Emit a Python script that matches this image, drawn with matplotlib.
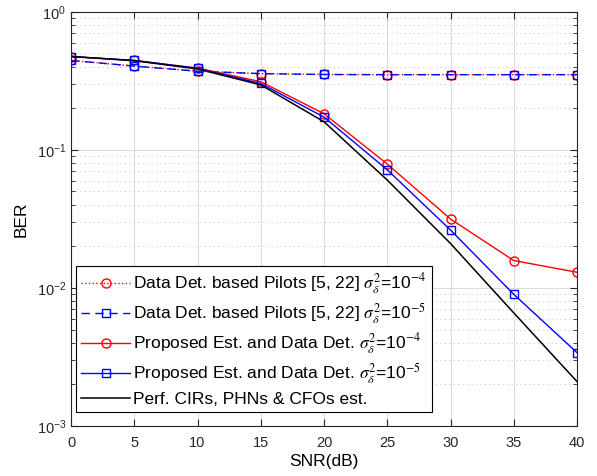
import numpy as np
import matplotlib.pyplot as plt
from matplotlib.ticker import LogLocator, NullFormatter

plt.rcParams['font.family'] = ['Liberation Sans', 'DejaVu Sans']
plt.rcParams['mathtext.fontset'] = 'stix'

snr = [0, 5, 10, 15, 20, 25, 30, 35, 40]

# BER values
pilots_e4 = [0.445, 0.405, 0.372, 0.357, 0.352, 0.351, 0.351, 0.351, 0.351]
pilots_e5 = [0.445, 0.405, 0.372, 0.357, 0.352, 0.351, 0.351, 0.351, 0.351]
prop_e4 = [0.475, 0.445, 0.392, 0.312, 0.183, 0.079, 0.0316, 0.0158, 0.0130]
prop_e5 = [0.475, 0.445, 0.390, 0.303, 0.173, 0.0718, 0.0263, 0.0090, 0.0034]
perfect = [0.475, 0.443, 0.386, 0.296, 0.160, 0.0605, 0.0210, 0.0066, 0.0021]

labels = [
    r'Data Det. based Pilots [5, 22] $\sigma_{\delta}^{2}$=10$^{-4}$',
    r'Data Det. based Pilots [5, 22] $\sigma_{\delta}^{2}$=10$^{-5}$',
    r'Proposed Est. and Data Det. $\sigma_{\delta}^{2}$=10$^{-4}$',
    r'Proposed Est. and Data Det. $\sigma_{\delta}^{2}$=10$^{-5}$',
    'Perf. CIRs, PHNs & CFOs est.',
]

fig = plt.figure(figsize=(5.97, 4.76), dpi=100)
ax = fig.add_axes([0.119, 0.105, 0.8475, 0.870])

ax.semilogy(snr, pilots_e4, ':', color='red', marker='o', ms=6.5, mfc='none', lw=1, label=labels[0])
ax.semilogy(snr, pilots_e5, '--', color='blue', marker='s', ms=6, mfc='none', lw=1, label=labels[1], dashes=(6, 4))
ax.semilogy(snr, prop_e4, '-', color='red', marker='o', ms=6.5, mfc='none', lw=1, label=labels[2])
ax.semilogy(snr, prop_e5, '-', color='blue', marker='s', ms=6, mfc='none', lw=1, label=labels[3])
ax.semilogy(snr, perfect, '-', color='black', lw=1.1, label=labels[4])

ax.set_xlim(0, 40)
ax.set_ylim(1e-3, 1)
ax.set_xticks(snr)
ax.yaxis.set_major_locator(LogLocator(base=10, numticks=10))
ax.yaxis.set_minor_locator(LogLocator(base=10, subs=np.arange(2, 10), numticks=20))
ax.yaxis.set_minor_formatter(NullFormatter())

ax.grid(True, which='major', color='#dcdcdc', lw=0.8)
ax.grid(True, which='minor', axis='y', color='#c8c8c8', ls=(0, (1, 3)), lw=0.8)
ax.set_axisbelow(True)

ax.tick_params(which='both', direction='in', top=True, right=True, labelsize=10.5, colors='#262626')
ax.tick_params(which='major', length=5)
ax.tick_params(axis='x', pad=7)
ax.tick_params(which='minor', length=3)
for s in ax.spines.values():
    s.set_color('#262626')

ax.set_xlabel('SNR(dB)', fontsize=12.5, labelpad=3)
ax.set_ylabel('BER', fontsize=12.5, labelpad=6)

leg = ax.legend(loc='lower left', bbox_to_anchor=(0.01, 0.034), borderaxespad=0,
                fontsize=12.5, fancybox=False, framealpha=1, edgecolor='black',
                handlelength=2.8, labelspacing=0.3, borderpad=0.3, handletextpad=0.2)
leg.get_frame().set_linewidth(0.8)

plt.savefig('out.png', dpi=100)
